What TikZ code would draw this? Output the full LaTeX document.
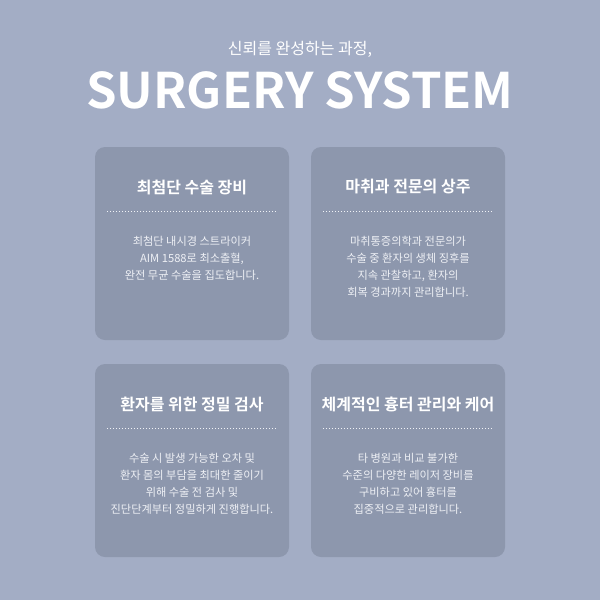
\documentclass[tikz,border=0pt]{standalone}
\usepackage{fontspec}
\setmainfont{Noto Sans CJK KR}
\newfontfamily\kbold{Noto Sans CJK KR Bold}
\definecolor{bg}{HTML}{A3ADC5}
\definecolor{card}{HTML}{8D97AD}
\definecolor{body}{HTML}{EEF0F5}
\tikzset{
 cardbox/.style={fill=card,rounded corners=10pt,draw=none},
 ctitle/.style={text=white,font=\kbold\fontsize{16}{19}\selectfont},
 cbody/.style={text=body,align=center,font=\fontsize{11.2}{17}\selectfont},
 dotline/.style={draw=body!80,line width=0.6pt,dash pattern=on 0.6pt off 2.4pt}
}
\begin{document}
\begin{tikzpicture}[x=1pt,y=-1pt]
\fill[bg] (0,0) rectangle (600,600);
\useasboundingbox (0,0) rectangle (600,600);
\node[text=white,font=\fontsize{16}{18}\selectfont] (sub) at (300,49) {신뢰를 완성하는 과정,};
\node[text=white,font=\kbold\fontsize{49}{54}\selectfont] (main) at (300,90) {SURGERY SYSTEM};
\foreach \n/\x/\y/\t/\b in {
 a/95/147/{최첨단 수술 장비}/{최첨단 내시경 스트라이커\\AIM 1588로 최소출혈,\\완전 무균 수술을 집도합니다.},
 b/311/147/{마취과 전문의 상주}/{마취통증의학과 전문의가\\수술 중 환자의 생체 징후를\\지속 관찰하고, 환자의\\회복 경과까지 관리합니다.},
 c/95/364/{환자를 위한 정밀 검사}/{수술 시 발생 가능한 오차 및\\환자 몸의 부담을 최대한 줄이기\\위해 수술 전 검사 및\\진단단계부터 정밀하게 진행합니다.},
 d/311/364/{체계적인 흉터 관리와 케어}/{타 병원과 비교 불가한\\수준의 다양한 레이저 장비를\\구비하고 있어 흉터를\\집중적으로 관리합니다.}}{
 \fill[cardbox] (\x,\y) rectangle ++(194,193);
 \node[ctitle] (\n t) at (\x+97,\y+40) {\t};
 \coordinate (\n l) at (\x+12,\y+64);
 \coordinate (\n r) at (\x+182,\y+64);
 \draw[dotline] (\n l) -- (\n r);
 \node[cbody,anchor=north] (\n b) at (\x+97,\y+86) {\b};
}
\end{tikzpicture}
\end{document}
